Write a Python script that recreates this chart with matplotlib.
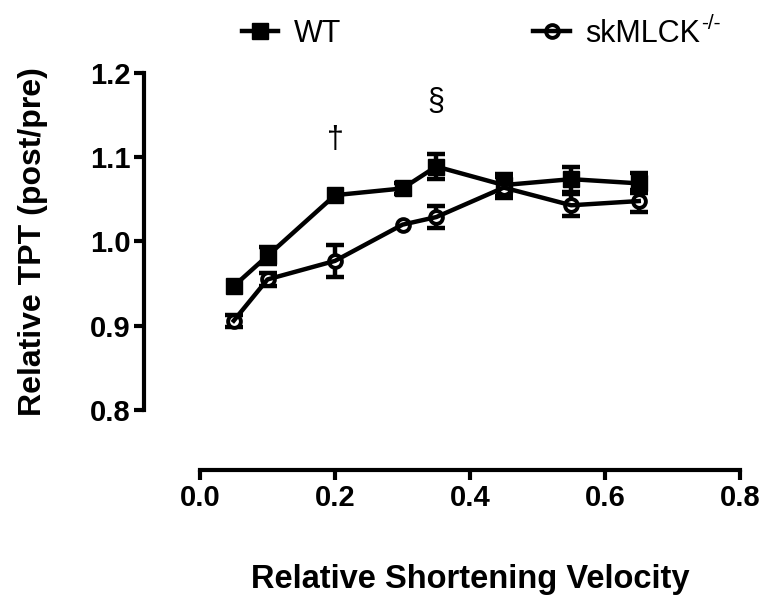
import matplotlib
matplotlib.use("Agg")
import matplotlib.pyplot as plt
from matplotlib.lines import Line2D

plt.rcParams['font.family'] = ['Liberation Sans', 'DejaVu Sans']

# velocidades relativas y TPT relativo (post/pre); error 0 = barra oculta bajo el símbolo
velocidad = [0.05, 0.10, 0.20, 0.30, 0.35, 0.45, 0.55, 0.65]
tpt_wt = [0.947, 0.983, 1.055, 1.063, 1.089, 1.067, 1.074, 1.069]
err_wt = [0.0, 0.010, 0.0, 0.007, 0.015, 0.013, 0.015, 0.012]
tpt_ko = [0.906, 0.955, 0.977, 1.020, 1.029, 1.064, 1.043, 1.048]
err_ko = [0.007, 0.008, 0.019, 0.0, 0.013, 0.012, 0.013, 0.013]

x_ticks = [0.0, 0.2, 0.4, 0.6, 0.8]
y_ticks = [0.8, 0.9, 1.0, 1.1, 1.2]

fig = plt.figure(figsize=(7.65, 6.01), dpi=100)
ax = fig.add_axes([200 / 765, 1 - 410 / 601, 540 / 765, 337 / 601])

lw = 3.2
estilo_wt = dict(color="black", lw=lw, marker="s", ms=11.5, mfc="black", mec="black")
estilo_ko = dict(color="black", lw=lw, marker="o", ms=9.2, mfc="none", mec="black", mew=2.8)


def serie(y, err, estilo):
    # barras de error solo donde asoman fuera del símbolo
    xs = [v for v, e in zip(velocidad, err) if e > 0]
    ys = [v for v, e in zip(y, err) if e > 0]
    es = [e for e in err if e > 0]
    ax.errorbar(xs, ys, yerr=es, fmt="none", ecolor="black", capsize=6.5,
                capthick=lw, elinewidth=lw, clip_on=False, zorder=2)
    marcas = dict(estilo)
    if marcas["mfc"] == "none":
        marcas["mfc"] = "white"
    marcas["ls"] = "none"
    ax.plot(velocidad, y, clip_on=False, zorder=3, **marcas)
    ax.plot(velocidad, y, color="black", lw=lw, clip_on=False, zorder=4)


serie(tpt_wt, err_wt, estilo_wt)
serie(tpt_ko, err_ko, estilo_ko)

# ejes separados al estilo GraphPad
for lado in ("top", "right"):
    ax.spines[lado].set_visible(False)
ax.spines["left"].set_position(("outward", 40))
ax.spines["bottom"].set_position(("outward", 43))
ax.spines["left"].set_bounds(0.8, 1.2)
ax.spines["bottom"].set_bounds(0.0, 0.8)
for lado in ("left", "bottom"):
    ax.spines[lado].set_linewidth(3)
    ax.spines[lado].set_capstyle("projecting")

ax.set_xlim(0, 0.8)
ax.set_ylim(0.8, 1.2)
ax.set_xticks(x_ticks)
ax.set_yticks(y_ticks)
ax.set_xticklabels([f"{v:.1f}" for v in x_ticks], fontweight="bold", fontsize=21)
ax.set_yticklabels([f"{v:.1f}" for v in y_ticks], fontweight="bold", fontsize=21)
ax.tick_params(width=3, length=7, pad=3)

ax.set_xlabel("Relative Shortening Velocity", fontsize=23.5, fontweight="bold",
              labelpad=38)
ax.set_ylabel("Relative TPT (post/pre)", fontsize=23, fontweight="bold",
              labelpad=30)

# marcas de significancia
ax.text(0.20, 1.120, "\u2020", ha="center", va="center", fontsize=22)
ax.text(0.35, 1.166, "\u00a7", ha="center", va="center", fontsize=22)

# leyenda
handles = [Line2D([], [], **estilo_wt), Line2D([], [], **estilo_ko)]
leg = fig.legend(handles=handles, labels=["WT", "skMLCK"], loc="upper left",
                 bbox_to_anchor=(214 / 765, 1.0 + 9 / 601), ncol=2, frameon=False,
                 fontsize=22, handlelength=1.2, columnspacing=6.3,
                 handletextpad=0.5)
fig.canvas.draw()
t = leg.get_texts()[1]
bb = t.get_window_extent()
fig.text(bb.x1 / 765 + 0.001, (bb.y1 - 5) / 601, "-/-", fontsize=15,
         ha="left", va="center")

fig.savefig("out.png", dpi=100)
